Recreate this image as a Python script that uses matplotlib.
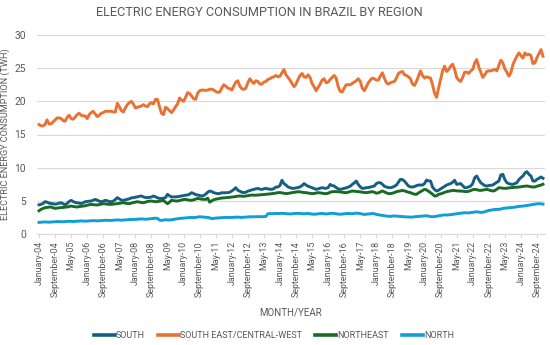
import matplotlib
matplotlib.use("Agg")
import matplotlib.pyplot as plt
import numpy as np

# Monthly consumption (TWh), January 2004 - December 2024
south = [
    4.40, 4.47, 4.60, 4.87, 4.80, 4.65, 4.60, 4.55, 4.50, 4.55, 4.65, 4.72,
    4.55, 4.40, 4.60, 4.90, 5.07, 4.90, 4.75, 4.70, 4.65, 4.60, 4.70, 4.87,
    4.90, 4.95, 4.97, 5.10, 5.22, 5.10, 4.95, 4.87, 4.95, 5.07, 5.00, 4.90,
    4.87, 4.95, 5.20, 5.48, 5.30, 5.10, 5.07, 5.15, 5.22, 5.30, 5.45, 5.48,
    5.55, 5.60, 5.68, 5.73, 5.60, 5.50, 5.48, 5.52, 5.58, 5.73, 5.60, 5.45,
    5.37, 5.35, 5.40, 5.48, 5.98, 5.75, 5.58, 5.60, 5.60, 5.62, 5.68, 5.73,
    5.80, 5.85, 5.88, 6.00, 6.23, 6.10, 5.95, 5.88, 5.80, 5.73, 5.80, 6.00,
    6.30, 6.48, 6.40, 6.23, 6.15, 6.08, 6.10, 6.23, 6.20, 6.23, 6.23, 6.30,
    6.48, 6.70, 6.98, 6.60, 6.45, 6.30, 6.23, 6.30, 6.45, 6.55, 6.65, 6.73,
    6.80, 6.88, 6.75, 6.73, 6.80, 6.88, 6.80, 6.75, 6.73, 6.85, 7.08, 7.10,
    7.30, 8.10, 7.60, 7.38, 7.10, 6.98, 6.90, 6.88, 6.95, 7.00, 7.10, 7.30,
    7.60, 7.38, 7.20, 7.10, 6.98, 6.85, 6.73, 6.80, 6.90, 6.98, 6.92, 6.88,
    7.00, 7.48, 7.30, 7.23, 7.00, 6.80, 6.73, 6.80, 6.88, 6.95, 7.08, 7.20,
    7.48, 7.70, 7.98, 7.48, 7.10, 6.88, 6.90, 6.98, 7.00, 7.08, 7.15, 7.23,
    7.60, 7.73, 7.73, 7.50, 7.20, 7.08, 7.00, 6.98, 7.05, 7.20, 7.38, 7.80,
    8.24, 8.20, 7.98, 7.60, 7.23, 7.10, 7.08, 7.15, 7.30, 7.38, 7.38, 7.38,
    7.60, 8.14, 8.00, 7.98, 7.08, 6.70, 6.48, 6.60, 6.80, 6.98, 7.20, 7.38,
    7.50, 7.60, 7.80, 8.10, 7.48, 7.55, 7.60, 7.30, 6.98, 7.00, 7.10, 7.23,
    7.60, 8.50, 8.74, 8.20, 7.73, 7.50, 7.30, 7.23, 7.30, 7.35, 7.38, 7.60,
    7.80, 7.98, 8.90, 9.00, 8.20, 7.73, 7.60, 7.50, 7.48, 7.60, 7.73, 8.20,
    8.50, 8.74, 9.20, 9.40, 9.00, 8.74, 7.98, 7.98, 8.24, 8.40, 8.60, 8.40,
]

southeast_cw = [
    16.5, 16.3, 16.3, 16.5, 17.2, 16.6, 16.6, 16.9, 17.2, 17.5, 17.5, 17.4,
    17.1, 17.0, 17.6, 17.9, 17.4, 17.3, 17.6, 18.0, 18.2, 17.9, 17.8, 17.8,
    17.4, 18.0, 18.3, 18.5, 18.1, 17.7, 17.9, 18.2, 18.3, 18.5, 18.5, 18.5,
    18.5, 18.4, 18.4, 19.7, 19.2, 18.6, 18.4, 19.0, 19.5, 19.8, 20.0, 19.6,
    19.0, 19.1, 19.2, 19.3, 19.5, 19.3, 19.2, 19.6, 19.8, 19.6, 20.3, 20.3,
    19.2, 18.2, 18.0, 19.1, 18.9, 18.6, 18.3, 18.7, 19.2, 19.6, 20.5, 20.2,
    20.0, 20.6, 21.3, 21.2, 20.8, 20.4, 20.3, 21.2, 21.6, 21.7, 21.7, 21.65,
    21.7, 21.8, 21.85, 21.7, 21.5, 21.35, 21.4, 22.0, 22.5, 22.3, 22.0, 21.9,
    21.7, 22.3, 22.9, 23.1, 22.3, 21.9, 21.8, 22.0, 22.8, 23.4, 23.0, 22.7,
    23.1, 23.0, 22.6, 22.6, 22.9, 23.0, 23.3, 23.4, 23.6, 23.7, 23.9, 23.7,
    23.8, 24.3, 24.8, 24.0, 23.6, 23.2, 22.7, 22.2, 22.6, 23.3, 23.9, 24.2,
    23.7, 23.6, 24.0, 23.6, 22.7, 22.2, 21.6, 22.1, 22.6, 23.2, 23.4, 22.8,
    22.9, 23.3, 23.6, 23.9, 23.5, 22.2, 21.5, 21.4, 22.0, 22.5, 22.5, 22.5,
    22.7, 22.9, 23.1, 23.4, 23.0, 22.0, 21.6, 22.2, 22.8, 23.2, 23.5, 23.4,
    23.2, 23.2, 23.8, 24.3, 23.5, 22.8, 22.6, 22.8, 22.9, 23.0, 23.5, 24.2,
    24.4, 24.5, 24.0, 23.9, 23.7, 23.4, 22.6, 22.4, 23.0, 23.8, 24.6, 23.9,
    23.5, 23.7, 23.6, 23.5, 22.5, 21.2, 20.6, 22.0, 23.3, 24.6, 25.3, 24.5,
    24.8, 25.3, 25.6, 24.8, 23.6, 23.2, 23.0, 23.6, 24.4, 24.4, 24.2, 24.6,
    24.8, 25.8, 26.3, 25.2, 24.4, 23.6, 24.0, 24.5, 24.6, 24.6, 24.7, 24.8,
    24.6, 25.4, 26.2, 25.8, 24.9, 24.4, 23.8, 24.3, 25.5, 26.2, 26.8, 27.3,
    26.9, 26.5, 27.3, 27.0, 27.1, 26.9, 25.7, 25.8, 26.6, 27.2, 27.8, 26.8,
]

northeast = [
    3.50, 3.72, 3.85, 3.97, 4.00, 4.05, 4.07, 3.95, 3.87, 3.90, 3.95, 3.97,
    4.00, 4.05, 4.07, 4.15, 4.22, 4.15, 4.10, 4.07, 4.12, 4.18, 4.22, 4.25,
    4.35, 4.40, 4.47, 4.42, 4.40, 4.37, 4.45, 4.50, 4.57, 4.55, 4.50, 4.47,
    4.47, 4.50, 4.55, 4.57, 4.62, 4.68, 4.72, 4.65, 4.60, 4.57, 4.65, 4.75,
    4.80, 4.87, 4.80, 4.75, 4.72, 4.80, 4.90, 4.95, 4.97, 4.92, 4.87, 4.90,
    4.95, 5.00, 5.07, 4.80, 4.57, 4.80, 5.07, 5.02, 5.00, 4.97, 5.05, 5.12,
    5.20, 5.22, 5.15, 5.10, 5.07, 5.15, 5.25, 5.37, 5.30, 5.25, 5.22, 5.22,
    5.40, 4.80, 5.00, 5.15, 5.25, 5.30, 5.37, 5.42, 5.45, 5.48, 5.50, 5.52,
    5.58, 5.60, 5.65, 5.70, 5.73, 5.70, 5.68, 5.73, 5.78, 5.82, 5.88, 5.85,
    5.85, 5.88, 5.90, 5.92, 5.95, 5.98, 6.00, 6.05, 6.08, 6.12, 6.18, 6.23,
    6.25, 6.20, 6.15, 6.08, 6.12, 6.18, 6.23, 6.28, 6.32, 6.38, 6.35, 6.30,
    6.25, 6.23, 6.18, 6.12, 6.08, 6.12, 6.18, 6.23, 6.20, 6.15, 6.10, 6.08,
    6.15, 6.30, 6.38, 6.40, 6.38, 6.38, 6.35, 6.30, 6.25, 6.23, 6.30, 6.40,
    6.48, 6.45, 6.42, 6.38, 6.35, 6.30, 6.25, 6.23, 6.28, 6.32, 6.38, 6.30,
    6.15, 6.20, 6.35, 6.48, 6.35, 6.20, 6.10, 6.08, 6.15, 6.25, 6.38, 6.45,
    6.50, 6.58, 6.50, 6.40, 6.30, 6.23, 6.10, 6.00, 5.98, 6.20, 6.38, 6.55,
    6.73, 6.65, 6.45, 6.23, 6.00, 5.73, 5.75, 5.98, 6.05, 6.15, 6.28, 6.38,
    6.45, 6.50, 6.58, 6.55, 6.50, 6.48, 6.48, 6.45, 6.42, 6.38, 6.45, 6.55,
    6.68, 6.73, 6.68, 6.60, 6.58, 6.62, 6.68, 6.73, 6.65, 6.55, 6.48, 6.55,
    6.75, 6.98, 6.95, 6.90, 6.88, 6.90, 6.95, 6.98, 7.00, 7.03, 7.06, 7.08,
    7.12, 7.18, 7.20, 7.24, 7.18, 7.12, 7.08, 7.10, 7.20, 7.30, 7.38, 7.50,
]

north = [
    1.75, 1.78, 1.80, 1.82, 1.80, 1.78, 1.80, 1.82, 1.85, 1.88, 1.86, 1.85,
    1.85, 1.88, 1.90, 1.92, 1.90, 1.88, 1.90, 1.92, 1.95, 1.97, 1.95, 1.93,
    1.95, 1.97, 2.00, 2.02, 2.00, 1.98, 2.00, 2.03, 2.05, 2.07, 2.05, 2.05,
    2.05, 2.08, 2.10, 2.12, 2.10, 2.08, 2.10, 2.12, 2.15, 2.18, 2.20, 2.18,
    2.20, 2.22, 2.25, 2.28, 2.25, 2.22, 2.25, 2.28, 2.30, 2.35, 2.38, 2.36,
    2.10, 2.05, 2.10, 2.15, 2.12, 2.10, 2.15, 2.20, 2.25, 2.30, 2.35, 2.38,
    2.40, 2.42, 2.45, 2.48, 2.50, 2.48, 2.50, 2.55, 2.60, 2.58, 2.55, 2.52,
    2.50, 2.45, 2.30, 2.35, 2.40, 2.42, 2.45, 2.45, 2.48, 2.50, 2.50, 2.48,
    2.50, 2.52, 2.55, 2.55, 2.52, 2.50, 2.52, 2.55, 2.58, 2.60, 2.58, 2.60,
    2.60, 2.62, 2.62, 2.60, 2.62, 2.65, 3.05, 3.08, 3.05, 3.07, 3.10, 3.08,
    3.10, 3.12, 3.10, 3.08, 3.05, 3.02, 3.05, 3.08, 3.10, 3.12, 3.10, 3.08,
    3.05, 3.08, 3.10, 3.05, 3.00, 2.98, 3.00, 3.05, 3.08, 3.10, 3.05, 3.02,
    3.05, 3.10, 3.12, 3.10, 3.05, 3.00, 2.98, 3.00, 3.05, 3.08, 3.10, 3.08,
    3.05, 3.10, 3.15, 3.12, 3.08, 3.00, 2.95, 2.98, 3.02, 3.05, 3.10, 3.05,
    2.95, 2.90, 2.85, 2.80, 2.75, 2.70, 2.68, 2.65, 2.70, 2.72, 2.70, 2.68,
    2.65, 2.62, 2.60, 2.58, 2.56, 2.55, 2.55, 2.60, 2.62, 2.65, 2.68, 2.70,
    2.72, 2.75, 2.70, 2.62, 2.60, 2.62, 2.68, 2.75, 2.80, 2.85, 2.88, 2.86,
    2.88, 2.92, 2.95, 3.00, 3.05, 3.10, 3.12, 3.18, 3.20, 3.20, 3.18, 3.22,
    3.25, 3.30, 3.35, 3.30, 3.25, 3.28, 3.35, 3.45, 3.55, 3.60, 3.65, 3.70,
    3.72, 3.70, 3.78, 3.85, 3.90, 3.92, 3.95, 3.98, 4.00, 4.05, 4.10, 4.15,
    4.18, 4.20, 4.25, 4.30, 4.35, 4.40, 4.45, 4.50, 4.55, 4.57, 4.55, 4.50,
]

tick_labels = [
    "January-04", "September-04", "May-05", "January-06", "September-06",
    "May-07", "January-08", "September-08", "May-09", "January-10",
    "September-10", "May-11", "January-12", "September-12", "May-13",
    "January-14", "September-14", "May-15", "January-16", "September-16",
    "May-17", "January-18", "September-18", "May-19", "January-20",
    "September-20", "May-21", "January-22", "September-22", "May-23",
    "January-24", "September-24",
]
tick_step = 8

series_names = ["SOUTH", "SOUTH EAST/CENTRAL-WEST", "NORTHEAST", "NORTH"]
series_colors = ["#156082", "#E97132", "#196B24", "#0F9ED5"]

plt.rcParams["font.family"] = ["Roboto", "DejaVu Sans"]
text_color = "#595959"
grid_color = "#D9D9D9"

fig = plt.figure(figsize=(5.5, 3.45), dpi=100)
ax = fig.add_axes([37 / 550, 1 - 234 / 345, 508 / 550, 199 / 345])

x = np.arange(len(south))
for data, name, color in zip([south, southeast_cw, northeast, north], series_names, series_colors):
    ax.plot(x, data, color=color, lw=2.1, label=name, solid_joinstyle="round")

ax.set_xlim(-1, len(south))
ax.set_ylim(0, 30)
ax.set_yticks(np.arange(0, 31, 5))
ax.set_xticks(np.arange(0, len(tick_labels) * tick_step, tick_step))
ax.set_xticklabels(tick_labels, rotation=90, fontsize=6.4, color=text_color)
ax.tick_params(axis="y", length=0, labelsize=7.4, labelcolor=text_color, pad=8)
ax.tick_params(axis="x", length=3, color=grid_color, pad=2)
ax.grid(axis="y", color=grid_color, lw=0.8)
ax.set_axisbelow(True)
for s in ["top", "right", "left"]:
    ax.spines[s].set_visible(False)
ax.spines["bottom"].set_color(grid_color)

ax.set_ylabel("ELECTRIC ENERGY CONSUMPTION (TWH)", fontsize=6.6, color=text_color)
ax.yaxis.set_label_coords((10 - 37) / 508, 0.5)
ax.set_xlabel("MONTH/YEAR", fontsize=7.0, color=text_color)
ax.xaxis.set_label_coords((291 - 37) / 508, -(308 - 234) / 199)
fig.text(259 / 550, 1 - 13 / 345, "ELECTRIC ENERGY CONSUMPTION IN BRAZIL BY REGION",
         ha="center", va="center", fontsize=9.2, color=text_color)

leg = fig.legend(loc="center", bbox_to_anchor=(274 / 550, 1 - 336 / 345), ncol=4, frameon=False,
                 fontsize=6.5, handlelength=2.3, handletextpad=0.1, columnspacing=1.5,
                 labelcolor=text_color, borderaxespad=0, borderpad=0)
for line in leg.get_lines():
    line.set_linewidth(2.6)

fig.savefig("out.png", dpi=100)
